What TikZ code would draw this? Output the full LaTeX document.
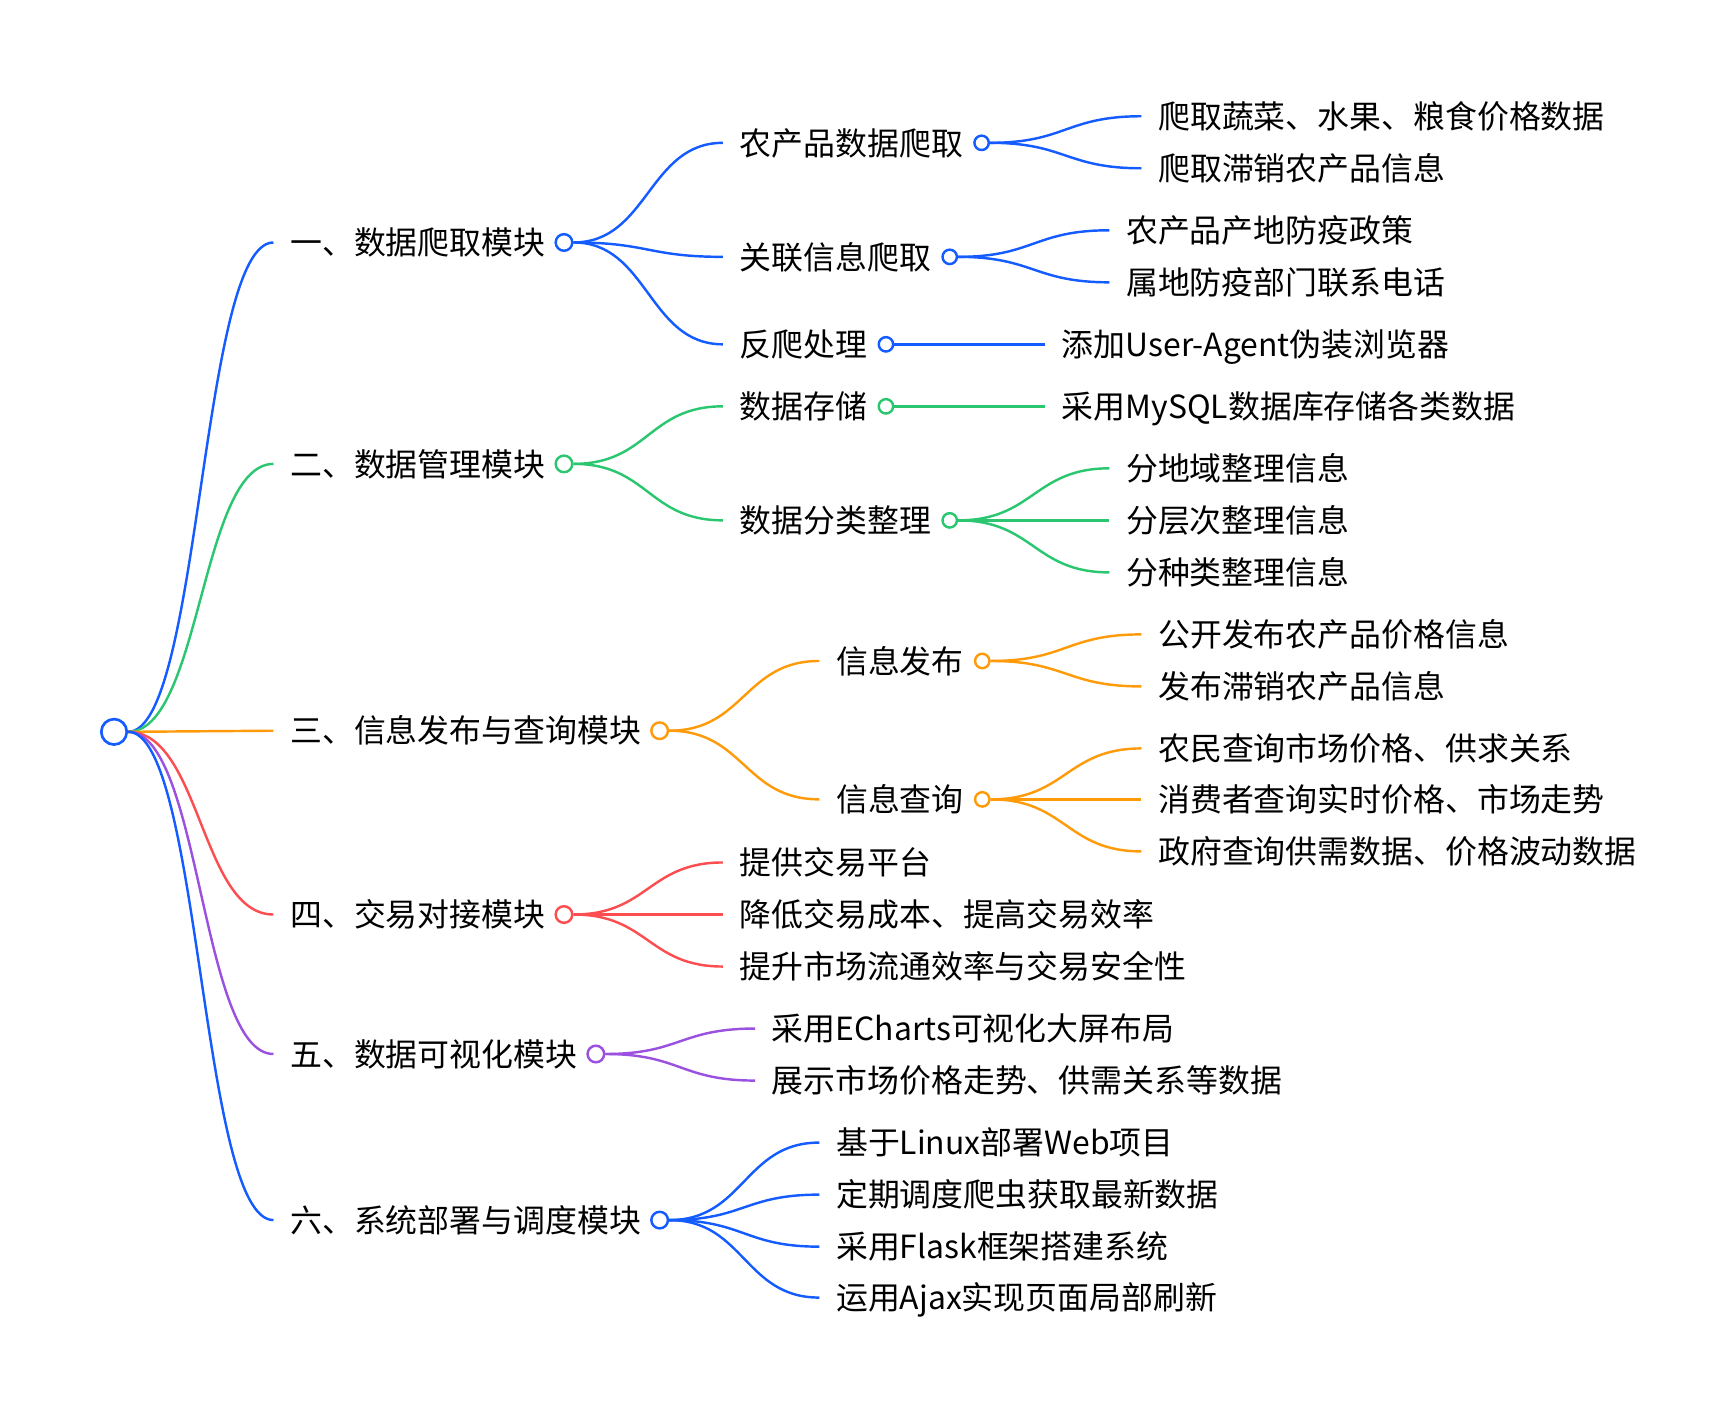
\documentclass[tikz,border=0pt]{standalone}
\usepackage{fontspec}
\newfontfamily\cjk{Noto Sans CJK SC}
\usetikzlibrary{positioning,calc}

\definecolor{mmblue}{RGB}{20,92,255}
\definecolor{mmgreen}{RGB}{42,199,112}
\definecolor{mmorange}{RGB}{255,155,10}
\definecolor{mmred}{RGB}{252,78,80}
\definecolor{mmpurple}{RGB}{155,81,224}

% curve from a circle to the left side of a text node
\newcommand{\mmlink}[3]{%
  \path (#2) -- coordinate[pos=0.5] (mid) ([xshift=-15pt]#3.west);
  \draw[edge,#1] (#2) .. controls (mid |- #2) and (mid |- #3.west) .. ([xshift=-15pt]#3.west);}

\begin{document}
\begin{tikzpicture}[x=1pt, y=-1pt,
  lbl/.style={anchor=west, inner sep=0pt, font=\cjk\fontsize{28.8}{34}\selectfont,
    text height=24pt, text depth=2pt},
  rootdot/.style={circle, draw, line width=2.4pt, minimum size=23pt, inner sep=0pt, fill=white},
  dot/.style={circle, draw, line width=2.2pt, minimum size=15pt, inner sep=0pt, fill=white},
  sdot/.style={circle, draw, line width=2.2pt, minimum size=13pt, inner sep=0pt, fill=white},
  edge/.style={line width=2.2pt}]
  \useasboundingbox (0,0) rectangle (1568,1279);

  \node[rootdot, draw=mmblue] (root) at (103,661) {};

  % first level
  \node[lbl] (m1) at (262,219) {一、数据爬取模块};
  \node[dot, draw=mmblue, right=8pt of m1] (m1c) {};
  \node[lbl] (m2) at (262,419) {二、数据管理模块};
  \node[dot, draw=mmgreen, right=8pt of m2] (m2c) {};
  \node[lbl] (m3) at (262,660) {三、信息发布与查询模块};
  \node[dot, draw=mmorange, right=8pt of m3] (m3c) {};
  \node[lbl] (m4) at (262,826) {四、交易对接模块};
  \node[dot, draw=mmred, right=8pt of m4] (m4c) {};
  \node[lbl] (m5) at (262,952) {五、数据可视化模块};
  \node[dot, draw=mmpurple, right=8pt of m5] (m5c) {};
  \node[lbl] (m6) at (262,1102) {六、系统部署与调度模块};
  \node[dot, draw=mmblue, right=8pt of m6] (m6c) {};

  \mmlink{mmblue}{root.east}{m1}
  \mmlink{mmgreen}{root.east}{m2}
  \mmlink{mmorange}{root.east}{m3}
  \mmlink{mmred}{root.east}{m4}
  \mmlink{mmpurple}{root.east}{m5}
  \mmlink{mmblue}{root.east}{m6}

  % 一、数据爬取模块
  \node[lbl] (crawl1) at (668,129) {农产品数据爬取};
  \node[sdot, draw=mmblue, right=9pt of crawl1] (crawl1c) {};
  \node[lbl] (crawl2) at (668,232) {关联信息爬取};
  \node[sdot, draw=mmblue, right=9pt of crawl2] (crawl2c) {};
  \node[lbl] (crawl3) at (668,311) {反爬处理};
  \node[sdot, draw=mmblue, right=9pt of crawl3] (crawl3c) {};
  \node[lbl] (veg) at (1046,105) {爬取蔬菜、水果、粮食价格数据};
  \node[lbl] (unsold) at (1046,152) {爬取滞销农产品信息};
  \node[lbl] (policy) at (1017,208) {农产品产地防疫政策};
  \node[lbl] (phone) at (1017,255) {属地防疫部门联系电话};
  \node[lbl] (agent) at (959,311) {添加User-Agent伪装浏览器};
  \foreach \t in {crawl1,crawl2,crawl3} {\mmlink{mmblue}{m1c.east}{\t}}
  \mmlink{mmblue}{crawl1c.east}{veg}
  \mmlink{mmblue}{crawl1c.east}{unsold}
  \mmlink{mmblue}{crawl2c.east}{policy}
  \mmlink{mmblue}{crawl2c.east}{phone}
  \mmlink{mmblue}{crawl3c.east}{agent}

  % 二、数据管理模块
  \node[lbl] (store) at (668,367) {数据存储};
  \node[sdot, draw=mmgreen, right=9pt of store] (storec) {};
  \node[lbl] (sort) at (668,470) {数据分类整理};
  \node[sdot, draw=mmgreen, right=9pt of sort] (sortc) {};
  \node[lbl] (mysql) at (959,367) {采用MySQL数据库存储各类数据};
  \node[lbl] (area) at (1017,423) {分地域整理信息};
  \node[lbl] (layer) at (1017,470) {分层次整理信息};
  \node[lbl] (kind) at (1017,517) {分种类整理信息};
  \mmlink{mmgreen}{m2c.east}{store}
  \mmlink{mmgreen}{m2c.east}{sort}
  \mmlink{mmgreen}{storec.east}{mysql}
  \foreach \t in {area,layer,kind} {\mmlink{mmgreen}{sortc.east}{\t}}

  % 三、信息发布与查询模块
  \node[lbl] (pub) at (755,597) {信息发布};
  \node[sdot, draw=mmorange, right=9pt of pub] (pubc) {};
  \node[lbl] (query) at (755,722) {信息查询};
  \node[sdot, draw=mmorange, right=9pt of query] (queryc) {};
  \node[lbl] (pub1) at (1046,573) {公开发布农产品价格信息};
  \node[lbl] (pub2) at (1046,620) {发布滞销农产品信息};
  \node[lbl] (q1) at (1046,676) {农民查询市场价格、供求关系};
  \node[lbl] (q2) at (1046,722) {消费者查询实时价格、市场走势};
  \node[lbl] (q3) at (1046,769) {政府查询供需数据、价格波动数据};
  \mmlink{mmorange}{m3c.east}{pub}
  \mmlink{mmorange}{m3c.east}{query}
  \foreach \t in {pub1,pub2} {\mmlink{mmorange}{pubc.east}{\t}}
  \foreach \t in {q1,q2,q3} {\mmlink{mmorange}{queryc.east}{\t}}

  % 四、交易对接模块
  \node[lbl] (trade1) at (668,779) {提供交易平台};
  \node[lbl] (trade2) at (668,826) {降低交易成本、提高交易效率};
  \node[lbl] (trade3) at (668,873) {提升市场流通效率与交易安全性};
  \foreach \t in {trade1,trade2,trade3} {\mmlink{mmred}{m4c.east}{\t}}

  % 五、数据可视化模块
  \node[lbl] (vis1) at (697,929) {采用ECharts可视化大屏布局};
  \node[lbl] (vis2) at (697,976) {展示市场价格走势、供需关系等数据};
  \foreach \t in {vis1,vis2} {\mmlink{mmpurple}{m5c.east}{\t}}

  % 六、系统部署与调度模块
  \node[lbl] (dep1) at (755,1032) {基于Linux部署Web项目};
  \node[lbl] (dep2) at (755,1079) {定期调度爬虫获取最新数据};
  \node[lbl] (dep3) at (755,1126) {采用Flask框架搭建系统};
  \node[lbl] (dep4) at (755,1172) {运用Ajax实现页面局部刷新};
  \foreach \t in {dep1,dep2,dep3,dep4} {\mmlink{mmblue}{m6c.east}{\t}}
\end{tikzpicture}
\end{document}
